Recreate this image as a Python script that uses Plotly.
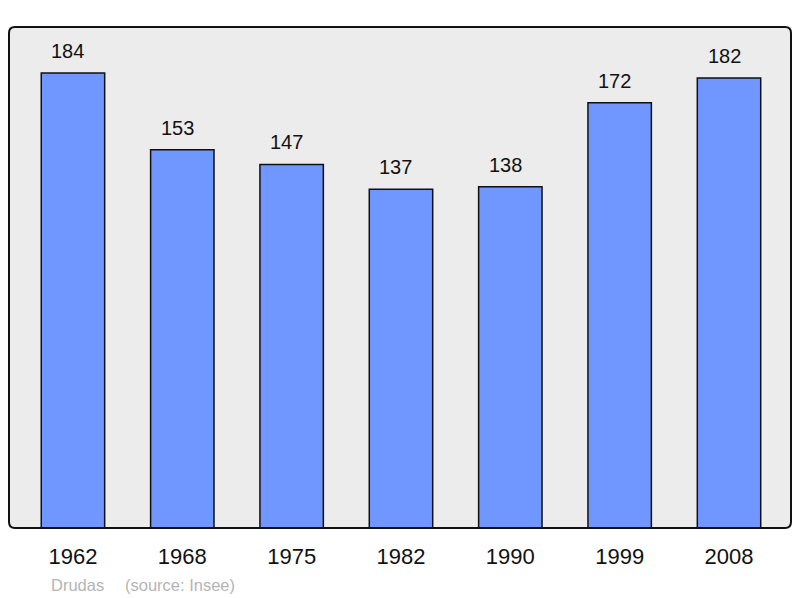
import plotly.graph_objects as go

# population by census year
years = ["1962", "1968", "1975", "1982", "1990", "1999", "2008"]
population = [184, 153, 147, 137, 138, 172, 182]

FONT = "Liberation Sans, Arial, sans-serif"

fig = go.Figure()

fig.add_trace(go.Bar(
    x=years,
    y=population,
    width=0.58,
    marker=dict(color="#7096ff", line=dict(color="#111111", width=1.5)),
    hoverinfo="x+y",
))

# value labels above each bar (index position: numeric-looking strings
# are not matched as categories by annotations)
for i, val in enumerate(population):
    fig.add_annotation(
        x=i, y=val, text=str(val), showarrow=False,
        yanchor="middle", yshift=22, xshift=-5,
        font=dict(family=FONT, size=20, color="#111111"),
    )

# rounded frame around the plot area
rx, ry = 6 / 782, 6 / 501
frame = (
    f"M {rx},0 L {1 - rx},0 Q 1,0 1,{ry} L 1,{1 - ry} Q 1,1 {1 - rx},1 "
    f"L {rx},1 Q 0,1 0,{1 - ry} L 0,{ry} Q 0,0 {rx},0 Z"
)
fig.add_shape(
    type="path", xref="paper", yref="paper", path=frame,
    line=dict(color="#111111", width=2), layer="above",
)

fig.add_annotation(
    xref="paper", yref="paper", x=0.0512, y=-0.1138, xanchor="left", yanchor="middle",
    text="Drudas", showarrow=False,
    font=dict(family=FONT, size=16.5, color="#b4b4b4"),
)
fig.add_annotation(
    xref="paper", yref="paper", x=0.1458, y=-0.1138, xanchor="left", yanchor="middle",
    text="(source: Insee)", showarrow=False,
    font=dict(family=FONT, size=16.5, color="#b4b4b4"),
)

fig.update_layout(
    width=784, height=590,
    margin=dict(l=1, r=1, t=19, b=70),
    paper_bgcolor="white",
    plot_bgcolor="#ececec",
    showlegend=False,
    font=dict(family=FONT, color="#111111"),
)
fig.update_xaxes(
    type="category", range=[-0.585, 6.567], showgrid=False, zeroline=False,
    tickfont=dict(size=22, color="#111111"), ticks="", ticklabelstandoff=13,
)
fig.update_yaxes(
    range=[0, 202.6], showgrid=False, zeroline=False, showticklabels=False,
)

fig.write_html("out.html")
